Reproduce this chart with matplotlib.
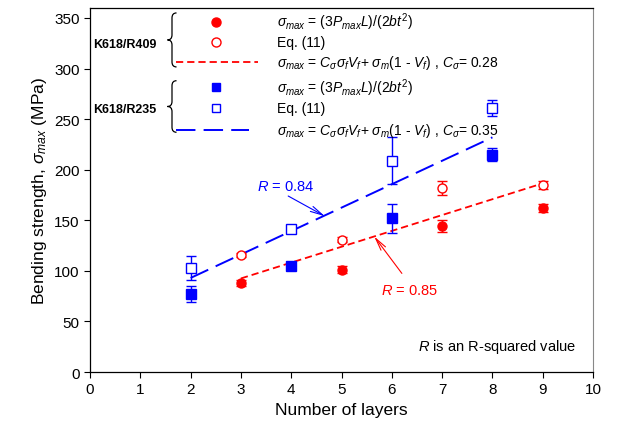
import numpy as np
import matplotlib
matplotlib.use('Agg')
import matplotlib.pyplot as plt
from matplotlib.path import Path
from matplotlib.patches import PathPatch

plt.rcParams['font.family'] = ['Liberation Sans', 'DejaVu Sans']
plt.rcParams['mathtext.fontset'] = 'custom'
plt.rcParams['mathtext.rm'] = 'Liberation Sans'
plt.rcParams['mathtext.it'] = 'Liberation Sans:italic'
plt.rcParams['mathtext.bf'] = 'Liberation Sans:bold'

# K618/R409 (red): measured and Eq. (11) strengths
r409_layers = [3, 5, 7, 9]
r409_meas = [88, 101, 144, 162]
r409_meas_err = [3, 3.5, 6, 4]
r409_eq11 = [116, 131, 182, 185]
r409_eq11_err = [2, 2.5, 7, 4]
r409_fit_x = [3, 9]
r409_fit_y = [92.5, 186.5]

# K618/R235 (blue)
r235_layers = [2, 4, 6, 8]
r235_meas = [77, 105, 152, 215]
r235_meas_err = [8, 3, 14.5, 6]
r235_eq11 = [103, 141, 209, 261]
r235_eq11_err = [12, 3, 23, 8]
r235_fit_x = [2, 8]
r235_fit_y = [93, 232]

RED = '#ff0000'
BLUE = '#0000ff'


def draw_brace(ax, x, y0, y1, w, h):
    # left-pointing curly brace between y0 (bottom) and y1 (top)
    ym = (y0 + y1) / 2
    xm = x + w / 2
    verts = [(x + w, y1), (xm, y1), (xm, y1 - h),
             (xm, ym + h), (xm, ym), (x, ym),
             (xm, ym), (xm, ym - h),
             (xm, y0 + h), (xm, y0), (x + w, y0)]
    codes = [Path.MOVETO, Path.CURVE3, Path.CURVE3,
             Path.LINETO, Path.CURVE3, Path.CURVE3,
             Path.CURVE3, Path.CURVE3,
             Path.LINETO, Path.CURVE3, Path.CURVE3]
    ax.add_patch(PathPatch(Path(verts, codes), fill=False, lw=0.9, color='black'))


fig = plt.figure(figsize=(6.22, 4.39), dpi=100)
ax = fig.add_axes([0.1447, 0.1503, 0.8087, 0.8295])

red_dash = dict(color=RED, lw=1.3, dashes=(4, 2.2))
blue_dash = dict(color=BLUE, lw=1.4, dashes=(10, 4.2))

ax.plot(r409_fit_x, r409_fit_y, **red_dash)
ax.plot(r235_fit_x, r235_fit_y, **blue_dash)

eb = dict(ls='none', capsize=3.5, elinewidth=1, capthick=1, ms=6.5)
ax.errorbar(r409_layers, r409_meas, yerr=r409_meas_err, fmt='o', color=RED, **eb)
ax.errorbar(r409_layers, r409_eq11, yerr=r409_eq11_err, fmt='o', color=RED,
            mfc='white', mew=1, **eb)
ax.errorbar(r235_layers, r235_meas, yerr=r235_meas_err, fmt='s', color=BLUE, **eb)
ax.errorbar(r235_layers, r235_eq11, yerr=r235_eq11_err, fmt='s', color=BLUE,
            mfc='white', mew=1, **eb)

# R-squared annotations
ax.text(3.88, 184, r'$R$ = 0.84', color=BLUE, fontsize=10.5, ha='center', va='center')
ax.annotate('', xy=(4.67, 154), xytext=(3.94, 174),
            arrowprops=dict(arrowstyle='->, head_length=0.9, head_width=0.2',
                            color=BLUE, lw=0.8, shrinkA=0, shrinkB=0))
ax.text(6.35, 81, r'$R$ = 0.85', color=RED, fontsize=10.5, ha='center', va='center')
ax.annotate('', xy=(5.65, 134), xytext=(6.2, 97.5),
            arrowprops=dict(arrowstyle='->, head_length=0.9, head_width=0.2',
                            color=RED, lw=0.8, shrinkA=0, shrinkB=0))
ax.text(9.67, 26, r'$R$ is an R-squared value', fontsize=10.5, ha='right', va='center')

# hand-built legend
rows = [346.4, 326, 306.9, 281.5, 260.8, 239.6]
mx, tx = 2.505, 3.71
fs = 10
ax.plot([mx], [rows[0]], 'o', color=RED, ms=6.5)
ax.plot([mx], [rows[1]], 'o', color=RED, mfc='white', ms=6.5, mew=1)
ax.plot([1.7, 3.33], [rows[2]] * 2, **red_dash)
ax.plot([mx], [rows[3]], 's', color=BLUE, ms=5.5)
ax.plot([mx], [rows[4]], 's', color=BLUE, mfc='white', ms=5.5, mew=1)
ax.plot([1.7, 3.16], [rows[5]] * 2, **blue_dash)

eq_exp = r'$\sigma_{max}$ = $(3P_{max}L)/(2bt^2)$'
eq_mix = r'$\sigma_{max}$ = $C_{\sigma}\sigma_f V_f$+ $\sigma_m$(1 - $V_f$) , $C_{\sigma}$= '
for i, cs in ((0, '0.28'), (3, '0.35')):
    ax.text(tx, rows[i], eq_exp, fontsize=fs, va='center')
    ax.text(tx, rows[i + 1], 'Eq. (11)', fontsize=fs, va='center')
    ax.text(tx, rows[i + 2], eq_mix + cs, fontsize=fs, va='center')

ax.text(0.055, 324.5, 'K618/R409', fontsize=9, fontweight='bold', va='center')
ax.text(0.055, 260, 'K618/R235', fontsize=9, fontweight='bold', va='center')
draw_brace(ax, 1.54, 301.6, 355, 0.18, 5)
draw_brace(ax, 1.54, 237, 288, 0.18, 5)

ax.set_xlim(0, 10)
ax.set_ylim(0, 360)
ax.set_xticks(range(0, 11))
ax.set_yticks(range(0, 351, 50))
ax.tick_params(direction='out', length=4, width=0.8, labelsize=11, top=False, right=False)
for side in ('left', 'bottom', 'top'):
    ax.spines[side].set_linewidth(0.9)
ax.spines['right'].set_color('#888888')
ax.set_xlabel('Number of layers', fontsize=12.5)
ax.set_ylabel(r'Bending strength, $\sigma_{max}$ (MPa)', fontsize=12.5)

fig.savefig('out.png', dpi=100)
